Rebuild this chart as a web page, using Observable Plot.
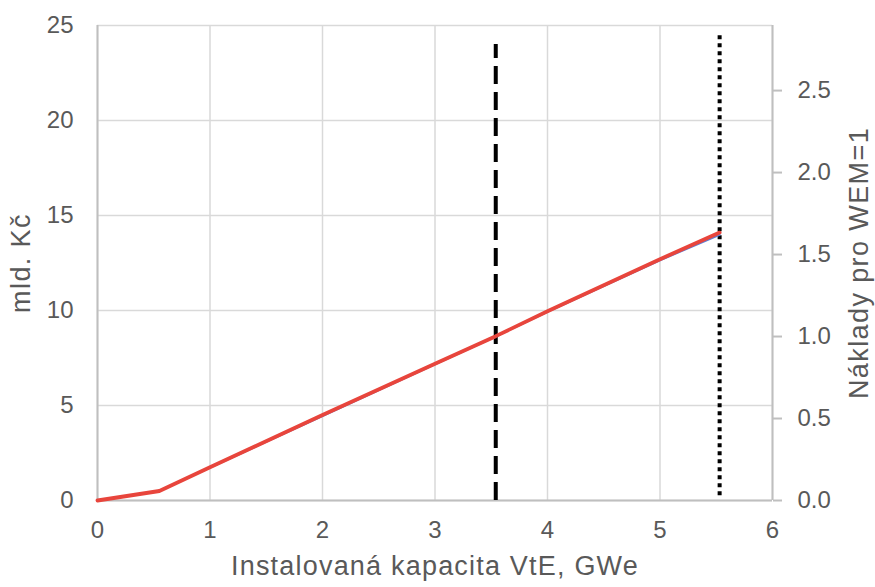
<!DOCTYPE html>
<html><head><meta charset="utf-8">
<script src="https://cdn.jsdelivr.net/npm/d3@7"></script>
<script src="https://cdn.jsdelivr.net/npm/@observablehq/plot@0.6"></script>
<style>body{margin:0;background:#fff}#chart svg{display:block}</style>
</head><body><div id="chart"></div>
<script>
// Data
const capacity = [0, 0.55, 1, 2, 3, 3.54, 4, 5, 5.53];          // GWe
const costs = [0, 0.5, 1.75, 4.5, 7.2, 8.65, 9.96, 12.7, 14.1];    // mld. Kč (left axis)
const relative = [0, 0.057, 0.2, 0.515, 0.83, 1.0, 1.15, 1.465, 1.62]; // Náklady pro WEM=1 (right axis)
const xTicks = [0, 1, 2, 3, 4, 5, 6];
const yTicks = [0, 5, 10, 15, 20, 25];
const rightTicks = [0, 0.5, 1.0, 1.5, 2.0, 2.5];
const wemCapacity = [3.54];
const wemRange = [0, 24];
const maxCapacity = [5.53];
const maxRange = [0.25, 24.6];
const rightPerLeft = 8.63; // left-axis units per right-axis unit

const costData = capacity.map((x, i) => ({x, y: costs[i]}));
const relData = capacity.map((x, i) => ({x, y: relative[i] * rightPerLeft}));

const textColor = "#595959";
const gridColor = "#d9d9d9";
const axisColor = "#bfbfbf";

const chart = Plot.plot({
  width: 875,
  height: 587,
  marginLeft: 97,
  marginRight: 103,
  marginTop: 25,
  marginBottom: 87,
  style: {fontFamily: "'Liberation Sans', Arial, sans-serif", fontSize: "24px", color: textColor, background: "#fff"},
  x: {domain: [0, 6]},
  y: {domain: [0, 25]},
  marks: [
    Plot.gridX(xTicks, {stroke: gridColor, strokeOpacity: 1, strokeWidth: 1.5}),
    Plot.gridY(yTicks, {stroke: gridColor, strokeOpacity: 1, strokeWidth: 1.5}),
    Plot.ruleX([0, 6], {stroke: axisColor, strokeWidth: 2}),
    Plot.ruleY([0], {stroke: axisColor, strokeWidth: 2}),
    Plot.axisX({ticks: xTicks, tickSize: 0, tickPadding: 20, label: null, tickFormat: d => String(d)}),
    Plot.axisY({ticks: yTicks, tickSize: 0, tickPadding: 24, label: null, tickFormat: d => String(d)}),
    Plot.axisY({anchor: "right", ticks: rightTicks.map(d => d * rightPerLeft), tickSize: 9, tickPadding: 16,
      stroke: axisColor, strokeWidth: 2, label: null, tickFormat: d => (d / rightPerLeft).toFixed(1)}),
    Plot.ruleX(wemCapacity, {y1: wemRange[0], y2: wemRange[1], stroke: "#000", strokeWidth: 4, strokeDasharray: "18,8"}),
    Plot.ruleX(maxCapacity, {y1: maxRange[0], y2: maxRange[1], stroke: "#000", strokeWidth: 4, strokeDasharray: "4,4"}),
    Plot.line(relData, {x: "x", y: "y", stroke: "#5b7fd6", strokeWidth: 2}),
    Plot.line(costData, {x: "x", y: "y", stroke: "#e8453c", strokeWidth: 3.8}),
    Plot.text(["mld. Kč"], {frameAnchor: "left", textAnchor: "middle", dx: -76, rotate: -90, fill: textColor, fontSize: 27}),
    Plot.text(["Náklady pro WEM=1"], {frameAnchor: "right", textAnchor: "middle", dx: 87, dy: 0, rotate: -90, fill: textColor, fontSize: 27}),
    Plot.text(["Instalovaná kapacita VtE, GWe"], {frameAnchor: "bottom", textAnchor: "middle", dy: 74, fill: textColor, fontSize: 27})
  ]
});
chart.querySelectorAll("text").forEach(t => {
  const s = t.textContent;
  if (s === "mld. Kč" || s === "Náklady pro WEM=1") t.setAttribute("letter-spacing", "1.4");
  if (s === "Instalovaná kapacita VtE, GWe") t.setAttribute("letter-spacing", "1.2");
});
document.getElementById("chart").appendChild(chart);
</script>
</body></html>
